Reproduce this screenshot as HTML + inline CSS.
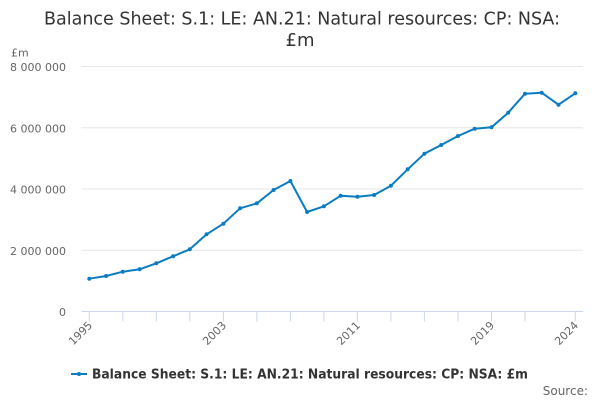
<!DOCTYPE html>
<html>
<head>
<meta charset="utf-8">
<style>
html,body{margin:0;padding:0;background:#fff;}
svg{display:block;font-family:"DejaVu Sans","Liberation Sans",sans-serif;}
</style>
</head>
<body>
<svg width="600" height="400" viewBox="0 0 600 400" xmlns="http://www.w3.org/2000/svg">
<rect x="0" y="0" width="600" height="400" fill="#ffffff"/>
<!-- title -->
<text x="302" y="24.5" text-anchor="middle" font-size="18" fill="#333333" textLength="516" lengthAdjust="spacingAndGlyphs">Balance Sheet: S.1: LE: AN.21: Natural resources: CP: NSA:</text>
<text x="300" y="46" text-anchor="middle" font-size="18" fill="#333333">£m</text>
<!-- axis title -->
<text x="11" y="56.5" font-size="11" fill="#666666">£m</text>
<!-- gridlines -->
<g stroke="#e6e6e6" stroke-width="1">
<line x1="81.5" y1="66.5" x2="583" y2="66.5"/>
<line x1="81.5" y1="127.75" x2="583" y2="127.75"/>
<line x1="81.5" y1="189" x2="583" y2="189"/>
<line x1="81.5" y1="250.25" x2="583" y2="250.25"/>
</g>
<!-- y labels -->
<g font-size="11" fill="#666666" text-anchor="end">
<text x="66" y="71">8 000 000</text>
<text x="66" y="132.25">6 000 000</text>
<text x="66" y="193.5">4 000 000</text>
<text x="66" y="254.75">2 000 000</text>
<text x="66" y="316">0</text>
</g>
<!-- x axis -->
<line x1="81.5" y1="311.5" x2="583" y2="311.5" stroke="#ccd6eb" stroke-width="1"/>
<g stroke="#ccd6eb" stroke-width="1">
<line x1="89.3" y1="311.5" x2="89.3" y2="321.5"/>
<line x1="122.8" y1="311.5" x2="122.8" y2="321.5"/>
<line x1="156.3" y1="311.5" x2="156.3" y2="321.5"/>
<line x1="189.8" y1="311.5" x2="189.8" y2="321.5"/>
<line x1="223.4" y1="311.5" x2="223.4" y2="321.5"/>
<line x1="256.9" y1="311.5" x2="256.9" y2="321.5"/>
<line x1="290.4" y1="311.5" x2="290.4" y2="321.5"/>
<line x1="323.9" y1="311.5" x2="323.9" y2="321.5"/>
<line x1="357.4" y1="311.5" x2="357.4" y2="321.5"/>
<line x1="390.9" y1="311.5" x2="390.9" y2="321.5"/>
<line x1="424.4" y1="311.5" x2="424.4" y2="321.5"/>
<line x1="458.0" y1="311.5" x2="458.0" y2="321.5"/>
<line x1="491.5" y1="311.5" x2="491.5" y2="321.5"/>
<line x1="525.0" y1="311.5" x2="525.0" y2="321.5"/>
<line x1="575.3" y1="311.5" x2="575.3" y2="321.5"/>
</g>
<g font-size="11" fill="#666666" text-anchor="end">
<text x="93" y="326" transform="rotate(-45 93 326)">1995</text>
<text x="227" y="326" transform="rotate(-45 227 326)">2003</text>
<text x="361" y="326" transform="rotate(-45 361 326)">2011</text>
<text x="495" y="326" transform="rotate(-45 495 326)">2019</text>
<text x="579" y="326" transform="rotate(-45 579 326)">2024</text>
</g>
<!-- series -->
<polyline fill="none" stroke="#0a7dc2" stroke-width="2" stroke-linejoin="round" stroke-linecap="round"
points="89.3,278.7 106.1,276 122.8,271.7 139.6,269.3 156.3,263.3 173.1,256.3 189.8,249.3 206.6,234.3 223.4,223.7 240.1,208.3 256.9,203.3 273.6,190 290.4,181 307.1,212 323.9,206.3 340.7,195.7 357.4,196.7 374.2,195 390.9,185.7 407.7,169.3 424.4,153.7 441.2,145 458.0,136 474.7,128.7 491.5,127.3 508.2,112.7 525.0,93.7 541.7,92.7 558.5,104.7 575.3,93.3"/>
<g fill="#0a7dc2">
<circle cx="89.3" cy="278.7" r="2"/><circle cx="106.1" cy="276" r="2"/><circle cx="122.8" cy="271.7" r="2"/><circle cx="139.6" cy="269.3" r="2"/><circle cx="156.3" cy="263.3" r="2"/><circle cx="173.1" cy="256.3" r="2"/><circle cx="189.8" cy="249.3" r="2"/><circle cx="206.6" cy="234.3" r="2"/><circle cx="223.4" cy="223.7" r="2"/><circle cx="240.1" cy="208.3" r="2"/><circle cx="256.9" cy="203.3" r="2"/><circle cx="273.6" cy="190" r="2"/><circle cx="290.4" cy="181" r="2"/><circle cx="307.1" cy="212" r="2"/><circle cx="323.9" cy="206.3" r="2"/><circle cx="340.7" cy="195.7" r="2"/><circle cx="357.4" cy="196.7" r="2"/><circle cx="374.2" cy="195" r="2"/><circle cx="390.9" cy="185.7" r="2"/><circle cx="407.7" cy="169.3" r="2"/><circle cx="424.4" cy="153.7" r="2"/><circle cx="441.2" cy="145" r="2"/><circle cx="458.0" cy="136" r="2"/><circle cx="474.7" cy="128.7" r="2"/><circle cx="491.5" cy="127.3" r="2"/><circle cx="508.2" cy="112.7" r="2"/><circle cx="525.0" cy="93.7" r="2"/><circle cx="541.7" cy="92.7" r="2"/><circle cx="558.5" cy="104.7" r="2"/><circle cx="575.3" cy="93.3" r="2"/>
</g>
<!-- legend -->
<line x1="71" y1="374" x2="87" y2="374" stroke="#0a7dc2" stroke-width="2"/>
<circle cx="79" cy="374" r="2" fill="#0a7dc2"/>
<text x="92" y="378.5" font-size="13" font-weight="bold" fill="#333333" textLength="436" lengthAdjust="spacingAndGlyphs">Balance Sheet: S.1: LE: AN.21: Natural resources: CP: NSA: £m</text>
<!-- source -->
<text x="588" y="395" text-anchor="end" font-size="12" fill="#666666">Source:</text>
</svg>
</body>
</html>
